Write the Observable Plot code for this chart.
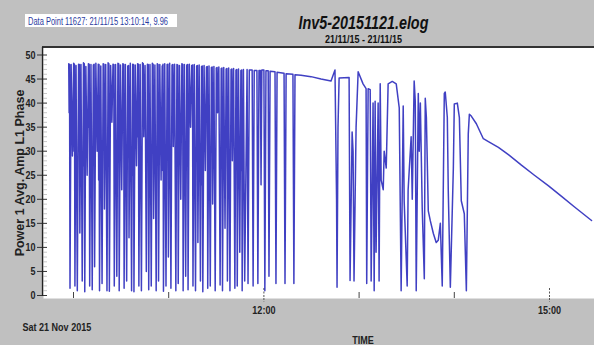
<!DOCTYPE html>
<html><head><meta charset="utf-8">
<script src="https://cdn.jsdelivr.net/npm/d3@7"></script>
<script src="https://cdn.jsdelivr.net/npm/@observablehq/plot@0.6"></script>
<style>html,body{margin:0;padding:0;background:#c0c0c0;} svg{display:block}</style>
</head><body><div id="chart"></div>
<script>
// Minutes after midnight, 21 Nov 2015, and Amp L1 readings
const burstTimes = [597.0,597.8, 598.5,599.3, 600.1,600.9, 601.6,602.4, 603.2,604.0, 604.7,605.5, 606.3,607.1, 607.8,608.6, 609.4,610.2, 611.0,611.8, 612.5,613.3, 614.1,614.9, 615.6,616.4, 617.2,618.0, 618.7,619.5, 620.3,621.1, 621.8,622.6, 623.4,624.2, 624.9,625.7, 626.5,627.3, 628.0,628.8, 629.6,630.4, 631.1,631.9, 632.7,633.5, 634.2,635.0, 635.8,636.6, 637.3,638.1, 638.9,639.7, 640.4,641.2, 642.0,642.8, 643.5,644.3, 645.1,645.9, 646.6,647.4, 648.2,649.0, 649.7,650.5, 651.3,652.1, 652.8,653.6, 654.4,655.2, 655.9,656.7, 657.5,658.3, 659.0,659.8, 660.6,661.4, 662.1,662.9, 663.7,664.5, 665.2,666.0, 666.8,667.6, 668.3,669.1, 669.9,670.7, 671.4,672.2, 673.0,673.8, 674.5,675.3, 676.1,676.9, 677.6,678.4, 679.2,680.0, 680.7,681.5, 682.3,683.1, 683.8,684.6, 685.4,686.2, 686.9,687.7, 688.5,689.3, 690.0,690.8, 691.6,692.4, 693.1,693.9, 694.7,695.5, 696.2,697.0, 697.8,698.6, 699.3,700.1, 700.9,701.7, 702.4,703.2, 704.0,704.8, 705.5,706.3, 707.1,707.9];
const burstAmps = [48.2,1.5, 48.0,29, 48.3,2, 47.8,1, 48.1,13, 48.0,3, 48.4,0.8, 47.6,25, 48.2,2, 48.0,1.2, 47.9,6, 48.3,30, 48.1,1, 47.7,2.5, 48.2,18, 48.0,1, 48.4,0.9, 47.8,36, 48.1,2, 48.0,4, 48.3,1, 47.9,22, 48.2,1.5, 48.0,3, 47.7,12, 48.3,1, 48.1,0.8, 47.9,27, 48.2,2, 48.0,1, 48.4,33, 47.8,5, 48.1,1.2, 48.0,2, 48.3,16, 47.9,1, 48.2,3, 48.0,24, 47.7,0.9, 48.2,2, 48.0,8, 48.3,1.5, 47.9,31, 48.1,1, 48.0,2.5, 47.8,20, 48.2,1, 48.0,4, 47.9,1.2, 48.1,35, 47.8,2, 48.0,1, 47.7,11, 47.9,3, 47.6,0.8, 47.8,26, 47.5,1.5, 47.7,2, 47.4,19, 47.6,1, 47.3,38, 47.5,2.2, 47.2,1, 47.4,14, 47.1,3, 47.3,1, 47.0,28, 47.2,1.5, 46.9,2, 47.1,9, 46.8,1, 47.0,3];
// short partial dips inside the burst (between a peak and the next deep drop)
const dipTimes = [597.25,597.5, 600.35,600.6, 603.45,603.7, 606.55,606.8, 609.65,609.9, 612.75,613.0, 615.85,616.1, 618.95,619.2, 622.05,622.3, 625.15,625.4, 628.25,628.5, 631.35,631.6, 634.45,634.7, 637.55,637.8, 640.65,640.9, 643.75,644.0, 646.85,647.1, 649.95,650.2, 653.05,653.3, 656.15,656.4, 659.25,659.5, 662.35,662.6, 665.45,665.7, 668.55,668.8, 671.65,671.9, 674.75,675.0, 677.85,678.1, 680.95,681.2, 684.05,684.3, 687.15,687.4, 690.25,690.5, 693.35,693.6, 696.45,696.7, 699.55,699.8, 702.65,702.9, 705.75,706.0];
const dipAmps = [38,48.0, 30,48.1, 42,48.0, 27,48.2, 35,48.1, 40,48.1, 24,48.0, 37,48.1, 31,48.2, 43,48.0, 28,48.2, 36,48.1, 40,47.8, 25,48.0, 33,48.1, 41,48.2, 29,48.0, 38,48.1, 34,48.0, 26,48.1, 39,48.1, 42,48.0, 30,47.9, 36,48.1, 27,48.0, 40,47.9, 33,47.8, 23,47.7, 37,47.6, 31,47.5, 41,47.4, 28,47.3, 35,47.2, 39,47.1, 32,47.0, 26,46.9];
const sparseTimes = [709.4,710.0,710.8, 712.6,713.2,713.9, 715.6,716.2,716.9, 717.8,718.2,718.7, 720.0,720.6,721.3, 722.7,723.2,723.9, 727.0,727.6,728.3, 732.7,733.3,734.0, 738.3,738.9,739.6];
const sparseAmps = [47.0,2.5,46.9, 46.9,2,46.8, 46.8,2.5,46.8, 46.8,23,46.9, 46.9,1,46.7, 46.7,4,46.6, 46.5,2.5,46.4, 46.2,2.5,46.1, 46.0,2.5,45.9];
const lateTimes = [743.4, 749.7, 756.0, 762.3, 764.8, 765.8, 766.1, 766.7, 767.4, 773.7, 774.3, 775.6, 776.2, 776.8, 778.1, 779.4, 782.5, 784.4, 784.8, 785.7, 787.0, 787.6, 788.8, 789.5, 790.1, 790.7, 792.0, 792.6, 793.3, 793.9, 795.2, 795.8, 797.1, 798.3, 800.9, 803.4, 805.3, 806.5, 807.8, 808.4, 810.3, 810.9, 812.8, 813.5, 814.7, 815.4, 816.0, 817.3, 817.9, 818.6, 819.8, 821.1, 821.7, 822.4, 823.6, 824.9, 826.8, 828.6, 829.9, 831.2, 832.4, 833.7, 834.3, 835.6, 836.2, 837.5, 839.4, 840.0, 841.9, 843.2, 844.4, 846.3, 847.6, 848.8, 849.5];
const lateAmps = [45.8, 45.5, 45.0, 44.6, 46.9, 20, 1.7, 35, 45.2, 45.3, 3.1, 34, 30, 3, 35, 46.5, 44, 43, 2.5, 43, 42.8, 3, 40, 1, 40.4, 9, 40, 3, 44, 24, 22, 30, 26.5, 44, 44.5, 44, 39, 1, 39.4, 19.7, 2, 22, 33, 20, 44.6, 40.4, 1, 42, 30, 40, 18, 3.5, 41, 37, 17.6, 15.5, 12.9, 11, 11.5, 15, 2, 42, 42.3, 37, 21.8, 1.7, 26.5, 39.8, 40, 37, 19.7, 17, 1, 33.6, 37.7];
const declineTimes = [850.7, 853.9, 858.3, 861.5, 867.8, 874.1, 882.3, 890.5, 899.4, 907.6, 915.8, 926.5];
const declineAmps = [37.3, 35.7, 32.6, 32.0, 30.8, 29.3, 27.1, 25.0, 22.8, 20.6, 18.4, 15.6];

const yTicks = [0, 5, 10, 15, 20, 25, 30, 35, 40, 45, 50];
const yMinor = [1,2,3,4,6,7,8,9,11,12,13,14,16,17,18,19,21,22,23,24,26,27,28,29,31,32,33,34,36,37,38,39,41,42,43,44,46,47,48,49];
const majorHours = [12, 15];
const minorHours = [10, 11, 13, 14];

const title = "Inv5-20151121.elog";
const subtitle = "21/11/15 - 21/11/15";
const yLabel = "Power 1 Avg. Amp L1 Phase";
const xLabel = "TIME";
const dateLabel = "Sat 21 Nov 2015";
const dataPoint = "Data Point 11627: 21/11/15 13:10:14, 9.96";

const base = Date.UTC(2015, 10, 21);
const toDate = m => new Date(base + m * 60000);
const rows = [];
[[burstTimes, burstAmps], [dipTimes, dipAmps], [sparseTimes, sparseAmps], [lateTimes, lateAmps], [declineTimes, declineAmps]]
  .forEach(([t, a]) => t.forEach((m, i) => rows.push({time: toDate(m), amp: a[i]})));
rows.sort((a, b) => a.time - b.time);

const font = "'Liberation Sans',Arial,sans-serif";
const major = majorHours.map(h => toDate(h * 60));
const minor = minorHours.map(h => toDate(h * 60));

const chart = Plot.plot({
  width: 594, height: 345,
  marginLeft: 43, marginRight: 0, marginTop: 47, marginBottom: 47,
  style: {background: "#c0c0c0", fontFamily: font, overflow: "visible"},
  x: {type: "utc", domain: [toDate(600), toDate(900)], range: [73, 549]},
  y: {domain: [0, 50], range: [295, 54.5]},
  marks: [
    Plot.frame({fill: "white", stroke: null}),
    Plot.tickY(yMinor, {y: d => d, stroke: "#c8c8c8", insetRight: 547}),
    Plot.tickY(yTicks, {y: d => d, stroke: "#333", insetRight: 547}),
    Plot.axisY({ticks: yTicks, tickFormat: "d", tickSize: 6, tickPadding: 2, fontSize: 11, fontWeight: "bold", fill: "#222", stroke: "#333", label: null}),
    Plot.tickX(minor, {x: d => d, insetTop: 245, stroke: "#444"}),
    Plot.tickX(major, {x: d => d, insetTop: 241, stroke: "#555", strokeDasharray: "2,1.5"}),
    Plot.axisX({ticks: major, tickFormat: d3.utcFormat("%H:%M"), tickSize: 4, tickPadding: 4, fontSize: 11, fontWeight: "bold", fill: "#222", stroke: "#555", strokeDasharray: "2,1.5", label: null}),
    Plot.line(rows, {x: "time", y: "amp", stroke: "#1e1eb8", strokeWidth: 1.5, strokeOpacity: 0.85}),
    Plot.text([title], {text: d => d, frameAnchor: "top", dx: 44.5, dy: -19, lineAnchor: "bottom", fontSize: 17.5, fontWeight: "bold", fontStyle: "italic", fill: "#111"}),
    Plot.text([subtitle], {text: d => d, frameAnchor: "top", dx: 44.5, dy: -5, lineAnchor: "bottom", fontSize: 11, fontWeight: "bold", fill: "#111"}),
    Plot.text([yLabel], {text: d => d, frameAnchor: "left", dx: -24, rotate: -90, textAnchor: "middle", lineAnchor: "middle", fontSize: 12.5, fontWeight: "bold", fill: "#222"}),
    Plot.text([dateLabel], {text: d => d, frameAnchor: "bottom-left", dx: -21, dy: 32, textAnchor: "start", lineAnchor: "bottom", fontSize: 11, fontWeight: "bold", fill: "#222"}),
    Plot.text([xLabel], {text: d => d, frameAnchor: "bottom", dx: 44, dy: 45, lineAnchor: "bottom", fontSize: 11, fontWeight: "bold", fill: "#222"})
  ]
});

const svg = d3.select(chart);
svg.append("line").attr("x1", 42).attr("x2", 594).attr("y1", 47).attr("y2", 47).attr("stroke", "#333").attr("stroke-width", 2);
svg.append("line").attr("x1", 42.5).attr("x2", 42.5).attr("y1", 47).attr("y2", 296).attr("stroke", "#222").attr("stroke-width", 1.3);
svg.append("rect").attr("x", 25).attr("y", 14).attr("width", 152).attr("height", 13).attr("fill", "white");
svg.append("text").attr("class", "dp").attr("x", 28).attr("y", 24.5).attr("text-anchor", "start").attr("fill", "#2a3aa0")
  .attr("font-size", 10).attr("font-family", font).text(dataPoint);

document.getElementById("chart").appendChild(chart);

// narrow-face look: condense every text except the rotated axis label
svg.selectAll("text").each(function () {
  if (this.textContent === yLabel) return;
  const len = this.getComputedTextLength();
  const target = this.getAttribute("class") === "dp" ? 140 : len * 0.82;
  if (len > 0) {
    this.setAttribute("textLength", target.toFixed(1));
    this.setAttribute("lengthAdjust", "spacingAndGlyphs");
  }
});
</script>
</body></html>
